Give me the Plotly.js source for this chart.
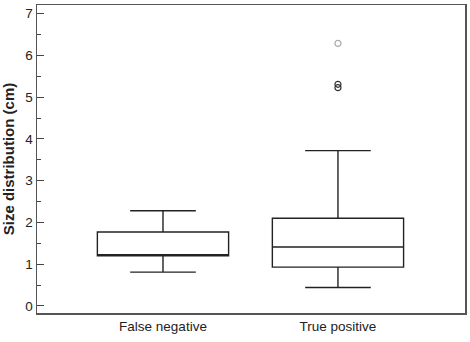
<!DOCTYPE html>
<html>
<head>
<meta charset="utf-8">
<script src="https://cdn.plot.ly/plotly-3.0.1.min.js"></script>
<style>html,body{margin:0;padding:0;background:#fff;}#chart{width:470px;height:342px;}</style>
</head>
<body>
<div id="chart"></div>
<script>
const categories = ["False negative", "True positive"];
const lowerWhisker = [0.81, 0.44];
const q1 = [1.20, 0.93];
const median = [1.20, 1.41];
const q3 = [1.77, 2.10];
const upperWhisker = [2.28, 3.72];
const outlierCats = ["True positive", "True positive"];
const outlierVals = [5.31, 5.23];
const farOutlierCats = ["True positive"];
const farOutlierVals = [6.29];
const yTicks = [0, 1, 2, 3, 4, 5, 6, 7];

const traces = [
  {
    type: "box",
    x: categories,
    q1: q1,
    median: median,
    q3: q3,
    lowerfence: lowerWhisker,
    upperfence: upperWhisker,
    width: 0.75,
    whiskerwidth: 0.5,
    fillcolor: "rgba(255,255,255,0)",
    line: { color: "#222", width: 1.4 },
    boxpoints: false,
    hoverinfo: "skip",
    showlegend: false
  },
  {
    type: "scatter",
    mode: "markers",
    x: outlierCats,
    y: outlierVals,
    marker: { symbol: "circle-open", size: 6, color: "#333", line: { width: 1.2 } },
    showlegend: false
  },
  {
    type: "scatter",
    mode: "markers",
    x: farOutlierCats,
    y: farOutlierVals,
    marker: { symbol: "circle-open", size: 6, color: "#aaa", line: { width: 1.2 } },
    showlegend: false
  }
];

const layout = {
  width: 470,
  height: 342,
  margin: { l: 37, r: 5, t: 5, b: 29 },
  paper_bgcolor: "#fff",
  plot_bgcolor: "#fff",
  font: { family: "Arial, Liberation Sans, sans-serif", color: "#222" },
  xaxis: {
    type: "category",
    range: [-0.72, 1.726],
    showgrid: false,
    zeroline: false,
    showline: true,
    mirror: true,
    linecolor: "#555",
    linewidth: 1.5,
    ticks: "",
    tickfont: { size: 13.5, color: "#222" }
  },
  yaxis: {
    range: [-0.17, 7.21],
    tickvals: yTicks,
    ticktext: yTicks.map(String),
    showgrid: false,
    zeroline: false,
    showline: true,
    mirror: true,
    linecolor: "#555",
    linewidth: 1.5,
    ticks: "inside",
    ticklen: 7,
    tickwidth: 1,
    tickcolor: "#444",
    minor: { dtick: 0.5, tick0: 0, ticks: "inside", ticklen: 4, tickcolor: "#444", showgrid: false },
    tickfont: { size: 13.5, color: "#222" },
    title: { text: "<b>Size distribution (cm)</b>", font: { size: 15, color: "#222" }, standoff: 8 }
  }
};

Plotly.newPlot("chart", traces, layout, { displayModeBar: false, staticPlot: true });
</script>
</body>
</html>
